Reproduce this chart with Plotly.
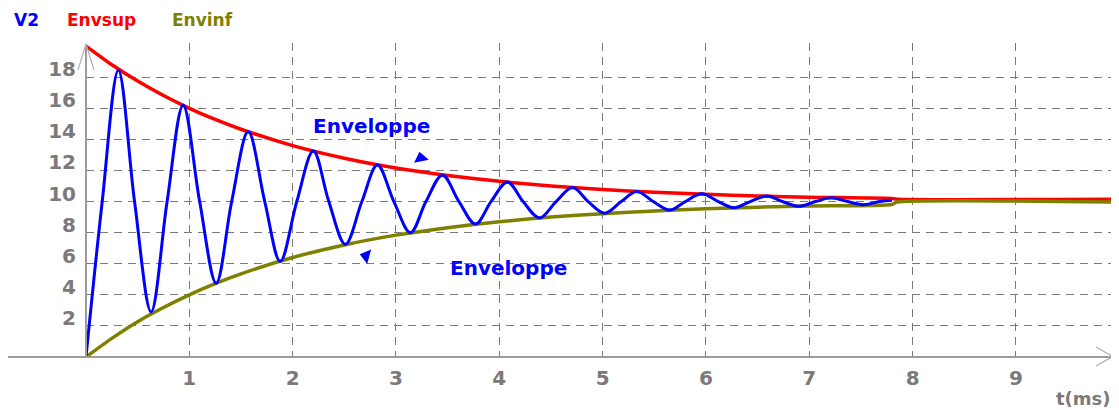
import plotly.graph_objects as go

# ---------------- data ----------------
t_v2 = [0, 0.157, 0.313, 0.47, 0.63, 0.785, 0.94, 1.1, 1.26, 1.41, 1.57, 1.73,
        1.88, 2.04, 2.2, 2.35, 2.51, 2.67, 2.82, 2.98, 3.14, 3.29, 3.45, 3.61,
        3.77, 3.92, 4.08, 4.23, 4.39, 4.55, 4.71, 4.86, 5.02, 5.18, 5.33, 5.49,
        5.65, 5.8, 5.96, 6.12, 6.27, 6.43, 6.59, 6.74, 6.9, 7.06, 7.21, 7.37,
        7.53, 7.68, 7.8]
v2 = [0, 10, 18.45, 10, 2.9, 10, 16.2, 10, 4.75, 10, 14.5, 10,
      6.15, 10, 13.25, 10, 7.25, 10, 12.35, 10, 8.0, 10, 11.7, 10,
      8.55, 10, 11.25, 10, 8.95, 10, 10.9, 10, 9.25, 10, 10.65, 10,
      9.45, 10, 10.5, 10, 9.6, 10, 10.35, 10, 9.7, 10, 10.25, 10,
      9.8, 10, 10.1]

t_env = [0, 0.25, 0.5, 0.75, 1.0, 1.25, 1.5, 2.0, 2.5, 3.0, 3.5, 4.0, 4.5,
         5.0, 5.5, 6.0, 6.5, 7.0, 7.8, 7.85, 9.93]
env_sup = [20, 18.8, 17.75, 16.82, 16.0, 15.28, 14.65, 13.6, 12.79, 12.16,
           11.68, 11.3, 11.0, 10.78, 10.6, 10.47, 10.36, 10.28, 10.2, 10.15, 10.15]
env_inf = [0, 1.2, 2.27, 3.18, 4.0, 4.72, 5.35, 6.4, 7.21, 7.84, 8.32, 8.7,
           9.0, 9.22, 9.4, 9.53, 9.64, 9.72, 9.81, 9.97, 9.97]

x_ticks = [1, 2, 3, 4, 5, 6, 7, 8, 9]
y_ticks = [2, 4, 6, 8, 10, 12, 14, 16, 18]

series_names = ["V2", "Envsup", "Envinf"]
series_colors = ["#0000FF", "#FF0000", "#808000"]

# ---------------- geometry ----------------
OFF = 8                      # page body margin added by the html page
W, H = 1119 - OFF, 410 - OFF
L, T = 86 - OFF, 43 - OFF
PW, PH = 1026, 314
R, B = W - L - PW, H - T - PH
XMAX, YMAX = 9.93, 20.2


def px(xpage):
    return (xpage - OFF - L) / PW


def py(ypage):
    return (T + PH - (ypage - OFF)) / PH


GRAY = "#7a7a7a"
AX = "#9c9c9c"
FONT = "DejaVu Sans"

fig = go.Figure()

fig.add_trace(go.Scatter(x=t_env, y=env_sup, mode="lines", name=series_names[1],
                         line=dict(color=series_colors[1], width=3.5, shape="spline", smoothing=0.6)))
fig.add_trace(go.Scatter(x=t_env, y=env_inf, mode="lines", name=series_names[2],
                         line=dict(color=series_colors[2], width=3.5, shape="spline", smoothing=0.6)))
fig.add_trace(go.Scatter(x=t_v2, y=v2, mode="lines", name=series_names[0],
                         line=dict(color=series_colors[0], width=3, shape="spline", smoothing=1)))

# small arrowheads next to the "Enveloppe" labels
fig.add_trace(go.Scatter(x=[3.24, 2.71], y=[12.8, 6.5], mode="markers",
                         marker=dict(symbol=["triangle-up", "triangle-left"], size=13,
                                     angle=[-12, 15], color="#0000FF"),
                         hoverinfo="skip"))

fig.update_layout(
    width=W, height=H,
    margin=dict(l=L, r=R, t=T, b=B),
    paper_bgcolor="white", plot_bgcolor="white",
    showlegend=False,
    xaxis=dict(range=[0, XMAX], tickvals=x_ticks, ticktext=[str(v) for v in x_ticks],
               showgrid=True, gridcolor=GRAY, griddash="8px,6px", gridwidth=1,
               zeroline=False, showline=False, ticks="",
               tickfont=dict(family=FONT, size=20, color=GRAY, weight="bold"),
               ticklabelstandoff=7),
    yaxis=dict(range=[0, YMAX], tickvals=y_ticks, ticktext=[str(v) for v in y_ticks],
               showgrid=True, gridcolor=GRAY, griddash="8px,6px", gridwidth=1,
               zeroline=False, showline=False, ticks="",
               tickfont=dict(family=FONT, size=20, color=GRAY, weight="bold"),
               ticklabelstandoff=9, ticklabelshift=-8),
)

shapes = []
# x axis line with arrow
shapes.append(dict(type="line", xref="paper", yref="paper", x0=px(7), x1=px(1112), y0=0, y1=0,
                   line=dict(color=AX, width=2)))
shapes.append(dict(type="line", xref="paper", yref="paper", x0=px(1096), x1=px(1112), y0=py(347), y1=py(356),
                   line=dict(color="#b0b0b0", width=1.2)))
shapes.append(dict(type="line", xref="paper", yref="paper", x0=px(1096), x1=px(1112), y0=py(366), y1=py(357),
                   line=dict(color="#b0b0b0", width=1.2)))
# y axis line with arrow
shapes.append(dict(type="line", xref="paper", yref="paper", x0=0, x1=0, y0=0, y1=py(44),
                   line=dict(color=AX, width=2)))
shapes.append(dict(type="line", xref="paper", yref="paper", x0=0, x1=px(78), y0=py(44), y1=py(70),
                   line=dict(color="#b0b0b0", width=1.2)))
shapes.append(dict(type="line", xref="paper", yref="paper", x0=0, x1=px(94), y0=py(44), y1=py(70),
                   line=dict(color="#b0b0b0", width=1.2)))
fig.update_layout(shapes=shapes)

ann = []
legend_x = [12, 65, 170]
for name, col, xl in zip(series_names, series_colors, legend_x):
    ann.append(dict(text=name, xref="paper", yref="paper", x=px(xl), y=py(20),
                    xanchor="left", yanchor="middle", showarrow=False,
                    font=dict(family=FONT, size=17, color=col, weight="bold")))
ann.append(dict(text="Enveloppe", xref="x", yref="y", x=2.76, y=14.85, showarrow=False,
                xanchor="center", yanchor="middle",
                font=dict(family=FONT, size=20, color="#0000FF", weight="bold")))
ann.append(dict(text="Enveloppe", xref="x", yref="y", x=4.09, y=5.72, showarrow=False,
                xanchor="center", yanchor="middle",
                font=dict(family=FONT, size=20, color="#0000FF", weight="bold")))
ann.append(dict(text="t(ms)", xref="paper", yref="paper", x=px(1113), y=py(398),
                xanchor="right", yanchor="middle", showarrow=False,
                font=dict(family=FONT, size=18, color=GRAY, weight="bold")))
fig.update_layout(annotations=ann)

fig.write_html("out.html")
